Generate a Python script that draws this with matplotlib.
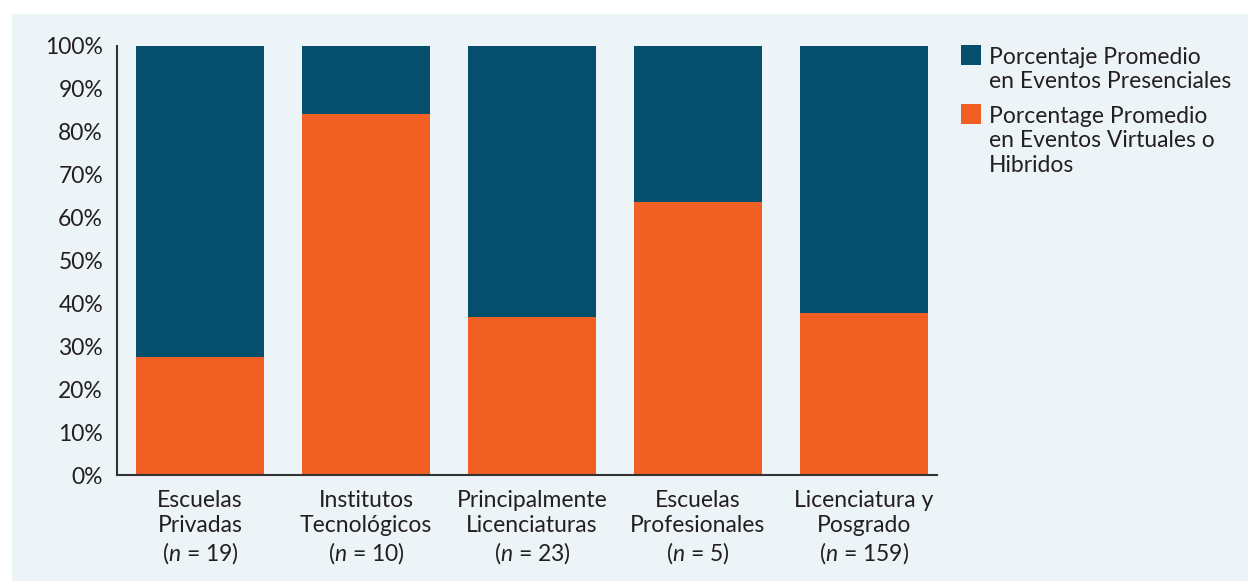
import matplotlib as mpl
import matplotlib.pyplot as plt
import numpy as np
from matplotlib.patches import Rectangle

mpl.rcParams.update(
    {
        "font.family": ["Lato", "DejaVu Sans"],
        "mathtext.fontset": "custom",
        "mathtext.it": "Lato:italic",
        "mathtext.rm": "Lato",
    }
)

categories = [
    "Escuelas\nPrivadas\n($\\it{n}$ = 19)",
    "Institutos\nTecnológicos\n($\\it{n}$ = 10)",
    "Principalmente\nLicenciaturas\n($\\it{n}$ = 23)",
    "Escuelas\nProfesionales\n($\\it{n}$ = 5)",
    "Licenciatura y\nPosgrado\n($\\it{n}$ = 159)",
]
virtual = [27.5, 84.1, 36.8, 63.6, 37.8]
presencial = [100 - v for v in virtual]
series_labels = [
    "Porcentaje Promedio\nen Eventos Presenciales",
    "Porcentage Promedio\nen Eventos Virtuales o\nHibridos",
]
yticks = list(range(0, 101, 10))

c_dark = "#054F6C"
c_orange = "#F15F22"
c_bg = "#EDF4F8"
c_text = "#231F20"
fs = 16.5
W, H = 1248, 581

fig = plt.figure(figsize=(W / 100, H / 100), dpi=100)
fig.patch.set_facecolor("white")
fig.patches.append(
    Rectangle((12 / W, 0), 1 - 12 / W, 1 - 14 / H,
              transform=fig.transFigure, facecolor=c_bg, edgecolor="none", zorder=-10)
)

ax = fig.add_axes([117 / W, 106 / H, 820 / W, 429 / H])
ax.set_facecolor("none")

x = np.arange(len(categories))
width = 0.77
ax.bar(x, virtual, width, color=c_orange)
ax.bar(x, presencial, width, bottom=virtual, color=c_dark)

ax.set_xlim(-0.5, 4.44)
ax.set_ylim(0, 100)
ax.set_yticks(yticks)
ax.set_yticklabels([f"{t}%" for t in yticks])
ax.set_xticks(x)
ax.set_xticklabels(categories, linespacing=1.2)

ax.tick_params(axis="both", length=0, labelsize=fs, colors=c_text)
ax.tick_params(axis="y", pad=10)
ax.tick_params(axis="x", pad=11)

for s in ["top", "right"]:
    ax.spines[s].set_visible(False)
for s in ["left", "bottom"]:
    ax.spines[s].set_color("#333333")
    ax.spines[s].set_linewidth(1.5)

# legend drawn by hand: square aligned with first line of each entry
legend_colors = [c_dark, c_orange]
legend_tops = [45, 104]
for lab, col, top in zip(series_labels, legend_colors, legend_tops):
    fig.patches.append(
        Rectangle((961 / W, 1 - (top + 20) / H), 20 / W, 20 / H,
                  transform=fig.transFigure, facecolor=col, edgecolor="none")
    )
    fig.text(989 / W, 1 - (top + 2) / H, lab, ha="left", va="top",
             fontsize=fs, color=c_text, linespacing=1.2)

fig.savefig("out.png", dpi=100)
